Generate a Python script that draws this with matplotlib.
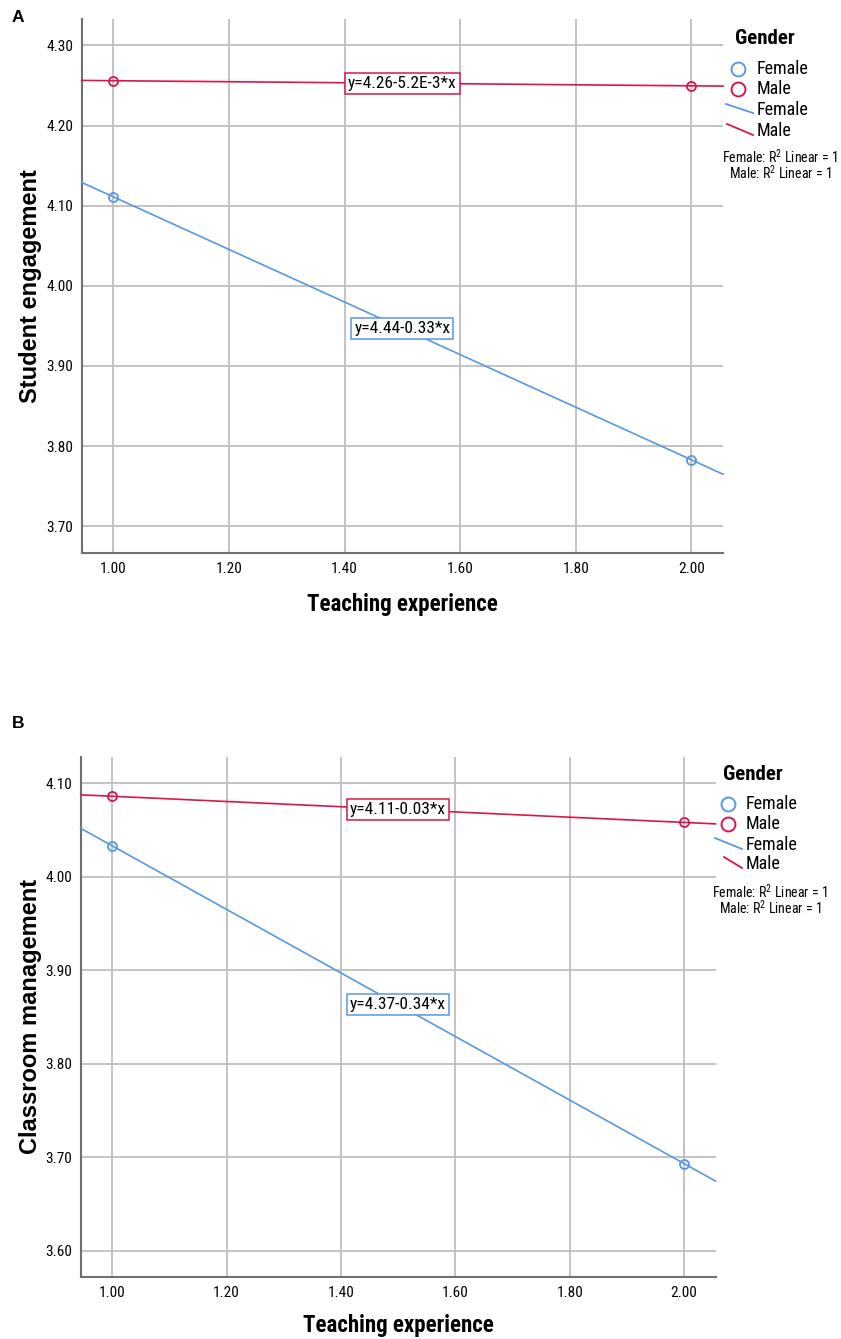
import matplotlib
matplotlib.use('Agg')
import matplotlib.pyplot as plt
import numpy as np
from matplotlib.lines import Line2D
from matplotlib import font_manager

W, H = 841, 1339

# ---------------- data ----------------
experience = [1.00, 2.00]
xticks = [1.00, 1.20, 1.40, 1.60, 1.80, 2.00]
genders = ["Female", "Male"]

a_female = [4.111, 3.783]
a_male = [4.256, 4.2496]
a_eqs = ["y=4.44-0.33*x", "y=4.26-5.2E-3*x"]
a_yticks = [3.70, 3.80, 3.90, 4.00, 4.10, 4.20, 4.30]
a_ylabel = "Student engagement"

b_female = [4.033, 3.693]
b_male = [4.086, 4.058]
b_eqs = ["y=4.37-0.34*x", "y=4.11-0.03*x"]
b_yticks = [3.60, 3.70, 3.80, 3.90, 4.00, 4.10]
b_ylabel = "Classroom management"

xlabel = "Teaching experience"
r2_texts = ["Female: R$^{2}$ Linear = 1", "Male: R$^{2}$ Linear = 1"]

FEM = '#5897e2'
MAL = '#d9164b'
GRID = '#bebebe'
SPINE = '#707070'

names = {f.name for f in font_manager.fontManager.ttflist}
NARROW = None
for cand in ['Liberation Sans Narrow', 'Arial Narrow', 'Roboto Condensed',
             'Open Sans Condensed', 'DejaVu Sans Condensed']:
    if cand in names:
        NARROW = cand
        break
if NARROW is None:
    NARROW = 'Liberation Sans'
    NS = 0.86   # shrink factor when no condensed face is available
else:
    NS = 1.0

plt.rcParams['font.family'] = [NARROW, 'Liberation Sans', 'DejaVu Sans']
plt.rcParams['mathtext.fontset'] = 'custom'
plt.rcParams['mathtext.rm'] = NARROW


def fx(px):
    return px / W


def fy(py):
    return 1 - py / H


fig = plt.figure(figsize=(W / 100, H / 100), dpi=100)


def panel(box, female, male, eqs, yticks, ylim, ylabel, xlab_y, ylab_x):
    l, r, t, b = box
    ax = fig.add_axes([fx(l), fy(b), fx(r) - fx(l), (b - t) / H])
    ax.set_xlim(0.945, 2.055)
    ax.set_ylim(*ylim)
    ax.set_xticks(xticks)
    ax.set_xticklabels([f"{v:.2f}" for v in xticks])
    ax.set_yticks(yticks)
    ax.set_yticklabels([f"{v:.2f}" for v in yticks])
    ax.grid(True, color=GRID, lw=1.3, zorder=0)
    ax.set_axisbelow(True)
    for s in ['top', 'right']:
        ax.spines[s].set_visible(False)
    for s in ['left', 'bottom']:
        ax.spines[s].set_color(SPINE)
        ax.spines[s].set_linewidth(1.5)
    ax.tick_params(length=0, labelsize=11 * NS, colors='black')
    ax.tick_params(axis='y', pad=6)
    ax.tick_params(axis='x', pad=7)
    x0, x1 = ax.get_xlim()
    xs = np.array([x0, x1])
    for vals, col, eq in zip([female, male], [FEM, MAL], eqs):
        k, c = np.polyfit(experience, vals, 1)
        ax.plot(xs, k * xs + c, color=col, lw=1.2, zorder=3, clip_on=False)
        ax.plot(experience, vals, 'o', mfc='none', mec=col, mew=1.3, ms=6.5, zorder=4)
        ax.text(1.5, k * 1.5 + c, eq, ha='center', va='center', fontsize=12.5 * NS,
                color='black', zorder=5,
                bbox=dict(boxstyle='square,pad=0.17', fc='white', ec=col, lw=1.1))
    ax.set_xlabel(xlabel, fontsize=16.5 * NS, fontweight='bold')
    ax.xaxis.set_label_coords(0.5, xlab_y)
    ax.set_ylabel(ylabel, fontsize=17, fontweight='bold', family='Liberation Sans')
    ax.yaxis.set_label_coords(ylab_x, 0.5)
    return ax


axA = panel((81.7, 723, 19, 552.7), a_female, a_male, a_eqs, a_yticks,
            (3.667, 4.333), a_ylabel, -0.075, -0.062)
axB = panel((80.7, 715.5, 757, 1276.7), b_female, b_male, b_eqs, b_yticks,
            (3.572, 4.128), b_ylabel, -0.071, -0.061)

fig.text(fx(18), fy(18), "A", fontsize=12.5, fontweight='bold', family='Liberation Sans',
         ha='center', va='center')
fig.text(fx(18), fy(723), "B", fontsize=12.5, fontweight='bold', family='Liberation Sans',
         ha='center', va='center')


def legend(gx, gy, cx, ty, c1, c2, l1, l2, r2x, r2y):
    fig.text(fx(gx), fy(gy), "Gender", fontsize=15 * NS, fontweight='bold',
             ha='left', va='center')
    cols = [FEM, MAL]
    for i, (g, col) in enumerate(zip(genders, cols)):
        yy = [c1, c2][i]
        fig.add_artist(Line2D([fx(cx)], [fy(yy)], marker='o', mfc='none', mec=col,
                              mew=1.4, ms=10, transform=fig.transFigure))
        fig.text(fx(ty), fy(yy), g, fontsize=13 * NS, ha='left', va='center')
    for i, (g, col) in enumerate(zip(genders, cols)):
        (xa, ya, xb, yb) = [l1, l2][i]
        fig.add_artist(Line2D([fx(xa), fx(xb)], [fy(ya), fy(yb)], color=col, lw=1.3,
                              transform=fig.transFigure))
        fig.text(fx(ty), fy((ya + yb) / 2 + 1.5), g, fontsize=13 * NS, ha='left',
                 va='center')
    for i, t in enumerate(r2_texts):
        fig.text(fx(r2x), fy(r2y[i]), t, fontsize=10 * NS,
                 ha='center', va='center')


legend(735, 38, 738, 757, 69, 89, (726, 104, 753, 113), (727, 124, 753, 135),
       780, (157, 173))
legend(723, 775, 727.7, 745.7, 804, 824, (715, 838, 742, 849), (724, 857, 742, 868),
       770, (892, 908))

fig.savefig('out.png', dpi=100, facecolor='white')
